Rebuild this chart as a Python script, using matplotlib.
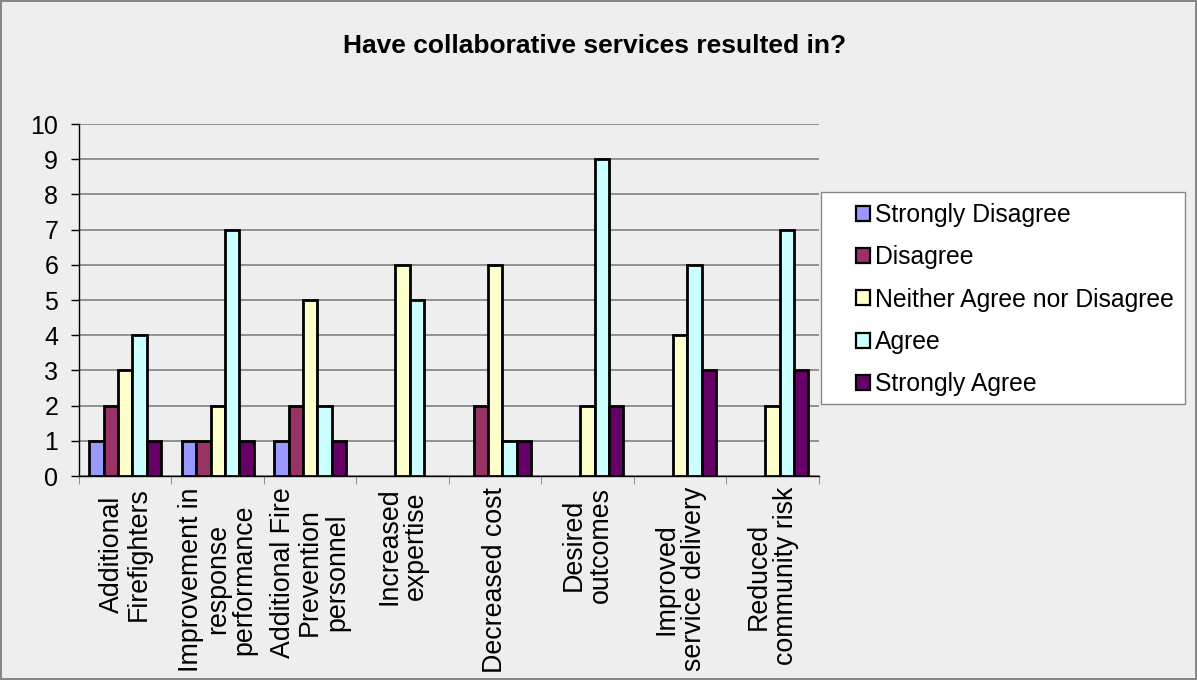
import numpy as np
import matplotlib
matplotlib.use("Agg")
import matplotlib.pyplot as plt
from matplotlib.patches import Rectangle

plt.rcParams['font.family'] = ['Liberation Sans', 'DejaVu Sans']

categories = ["Additional\nFirefighters", "Improvement in\nresponse\nperformance",
              "Additional Fire\nPrevention\npersonnel", "Increased\nexpertise",
              "Decreased cost", "Desired\noutcomes", "Improved\nservice delivery",
              "Reduced\ncommunity risk"]
series_names = ["Strongly Disagree", "Disagree", "Neither Agree nor Disagree",
                "Agree", "Strongly Agree"]
strongly_disagree = [1, 1, 1, 0, 0, 0, 0, 0]
disagree = [2, 1, 2, 0, 2, 0, 0, 0]
neither = [3, 2, 5, 6, 6, 2, 4, 2]
agree = [4, 7, 2, 5, 1, 9, 6, 7]
strongly_agree = [1, 1, 1, 0, 1, 2, 3, 3]
colors = ["#9999FF", "#993366", "#FFFFCC", "#CCFFFF", "#660066"]

bg = "#eeeeee"
W, H = 1197, 680
fig = plt.figure(figsize=(W / 100, H / 100), dpi=100, facecolor=bg,
                 edgecolor="#888888", linewidth=1.5)
ax = fig.add_axes([0.066, 0.30, 0.618, 0.5176])
ax.set_facecolor(bg)

x = np.arange(len(categories))
w = 0.155
data = [strongly_disagree, disagree, neither, agree, strongly_agree]
for i, (vals, name, c) in enumerate(zip(data, series_names, colors)):
    lws = [2.0 if v > 0 else 0 for v in vals]
    ax.bar(x + (i - 2) * w, vals, w, color=c, edgecolor="black",
           linewidth=lws, label=name, zorder=3)

ax.set_xlim(-0.5, len(categories) - 0.5)
ax.set_ylim(0, 10)
ax.set_yticks(range(0, 11))
ax.yaxis.grid(True, color="#808080", linewidth=1.2, zorder=0)
ax.tick_params(axis='y', labelsize=18, length=6, width=1, direction='out', pad=9)
for s in ["top", "right"]:
    ax.spines[s].set_visible(False)
for s in ["left", "bottom"]:
    ax.spines[s].set_color("black")
    ax.spines[s].set_linewidth(1)

ax.set_xticks(x)
ax.set_xticklabels(categories, rotation=90, fontsize=19.3, linespacing=1.05,
                   ha='center', va='top', multialignment='center')
ax.tick_params(axis='x', which='major', length=0, pad=8)
ax.set_xticks(np.arange(-0.5, len(categories)), minor=True)
ax.tick_params(axis='x', which='minor', length=6, color="#808080")

fig.text(0.497, 0.932, "Have collaborative services resulted in?",
         fontsize=19, fontweight='bold', ha='center', va='center')

# legend frame drawn by hand to get Excel-like padding
fig.patches.append(Rectangle((821 / W, 1 - 404 / H), (1185 - 821) / W, (404 - 192) / H,
                             transform=fig.transFigure, facecolor="white",
                             edgecolor="#888888", linewidth=1, zorder=1))
handles, labels = ax.get_legend_handles_labels()
leg = fig.legend(handles, labels, loc='upper left',
                 bbox_to_anchor=(856 / W, 1 - 203 / H), fontsize=17.8,
                 frameon=False, handlelength=0.55, handleheight=0.55,
                 handletextpad=0.2, labelspacing=0.74, borderpad=0,
                 borderaxespad=0)
leg.set_zorder(2)
for h in leg.legend_handles:
    h.set_linewidth(1.6)

fig.savefig("out.png", dpi=100, facecolor=bg, edgecolor="#888888")
